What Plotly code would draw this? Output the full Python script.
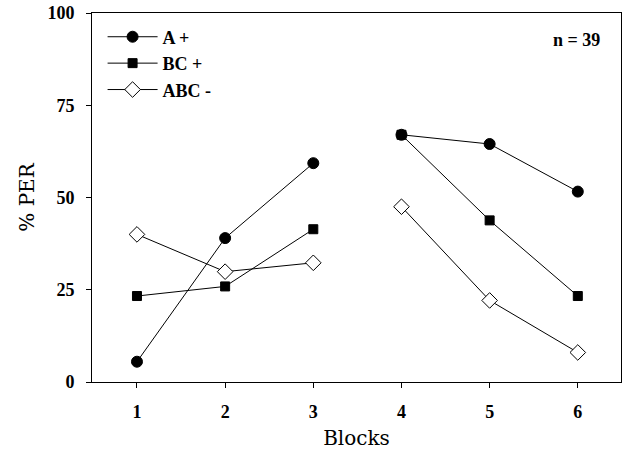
import plotly.graph_objects as go

blocks = [1, 2, 3, 4, 5, 6]
a_plus = [5.5, 39.0, 59.3, 67.0, 64.5, 51.6]
bc_plus = [23.3, 25.9, 41.4, 67.0, 43.8, 23.3]
abc_minus = [40.0, 29.9, 32.3, 47.5, 22.1, 8.0]
names = ["A +", "BC +", "ABC -"]
y_ticks = [0, 25, 50, 75, 100]

def split_gap(vals):
    # the chart breaks each line between block 3 and block 4
    xs = blocks[:3] + [None] + blocks[3:]
    ys = vals[:3] + [None] + vals[3:]
    return xs, ys

TICKFONT = "Liberation Serif"
TITLEFONT = "DejaVu Serif"
fig = go.Figure()
styles = [
    dict(symbol="circle", size=11, color="black", line=dict(color="black", width=1)),
    dict(symbol="square", size=9, color="black", line=dict(color="black", width=1)),
    dict(symbol="diamond", size=12, color="white", line=dict(color="black", width=1)),
]
for name, vals, mk in zip(names, [a_plus, bc_plus, abc_minus], styles):
    xs, ys = split_gap(vals)
    fig.add_trace(go.Scatter(x=xs, y=ys, mode="lines+markers", name=name,
                             line=dict(color="black", width=1), marker=mk,
                             connectgaps=False))

fig.add_annotation(x=0.964, y=0.926, xref="paper", yref="paper", text="n = 39",
                   showarrow=False, xanchor="right", yanchor="middle",
                   font=dict(family=TICKFONT, size=18, color="black", weight="bold"))

fig.update_layout(
    width=625, height=454,
    margin=dict(l=92, r=4, t=13, b=72),
    paper_bgcolor="white", plot_bgcolor="white",
    font=dict(family=TICKFONT, color="black"),
    showlegend=True,
    legend=dict(x=0.02, y=0.985, xanchor="left", yanchor="top",
                bgcolor="rgba(0,0,0,0)", borderwidth=0,
                font=dict(family=TICKFONT, size=18, color="black", weight="bold"),
                tracegroupgap=0, itemwidth=50),
    xaxis=dict(range=[0.49, 6.49], tickvals=blocks, ticks="outside", ticklen=5,
               tickcolor="black", showgrid=False, zeroline=False,
               showline=True, linecolor="black", linewidth=1, mirror=True,
               ticklabelstandoff=8,
               tickfont=dict(family=TICKFONT, size=18, color="black", weight="bold"),
               title=dict(text="Blocks", standoff=10,
                          font=dict(family=TITLEFONT, size=20, color="black"))),
    yaxis=dict(range=[0, 100], tickvals=y_ticks, ticks="outside", ticklen=5,
               tickcolor="black", showgrid=False, zeroline=False,
               showline=True, linecolor="black", linewidth=1, mirror=True,
               ticklabelstandoff=8,
               tickfont=dict(family=TICKFONT, size=18, color="black", weight="bold"),
               title=dict(text="% PER", standoff=7,
                          font=dict(family=TITLEFONT, size=20, color="black"))),
)
fig.write_html("out.html", config={"displayModeBar": False},
               post_script="document.body.style.margin='0';document.body.style.overflow='hidden';")
